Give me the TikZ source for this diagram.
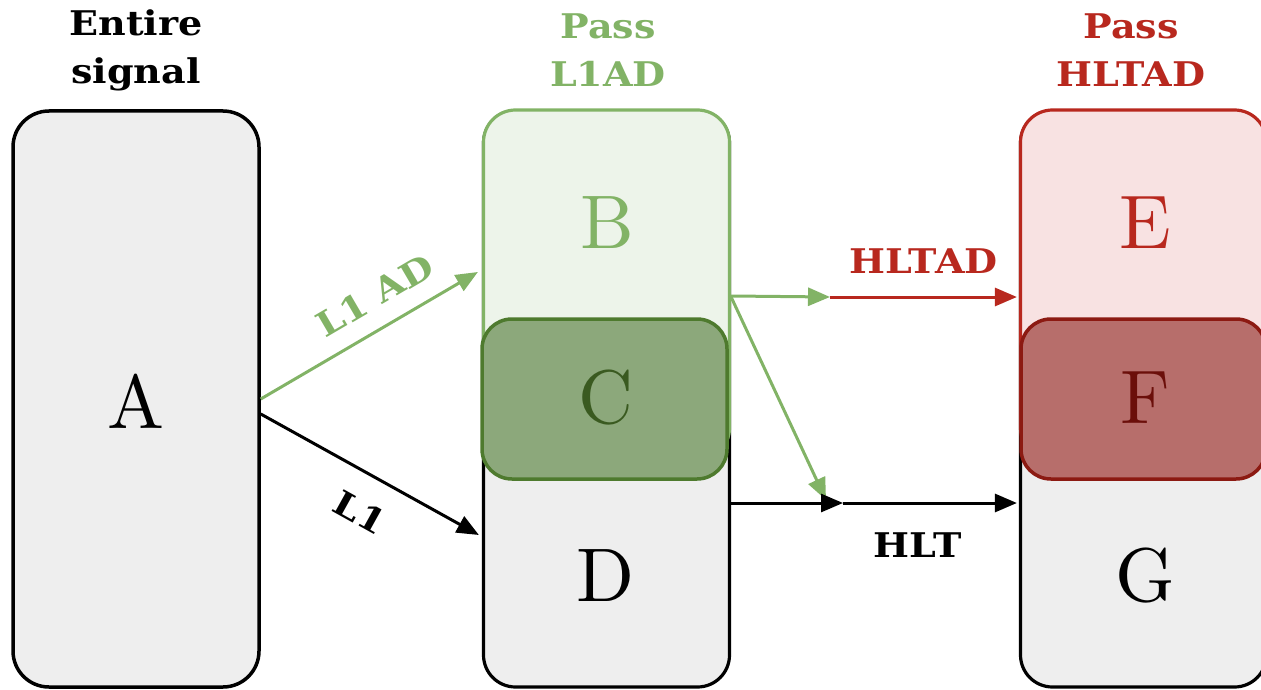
\documentclass[tikz,border=0pt]{standalone}
\usepackage{fontspec}
\newfontfamily\labfont{DejaVu Serif}[FakeStretch=1.12]
\newfontfamily\letterfont{lmroman10-regular.otf}
\usetikzlibrary{arrows.meta,calc}
\definecolor{grayfill}{HTML}{EEEEEE}
\definecolor{greenline}{HTML}{82B366}
\definecolor{greenfill}{HTML}{EDF4EA}
\definecolor{cfill}{HTML}{8CA87B}
\definecolor{cline}{HTML}{4E7A2E}
\definecolor{ctext}{HTML}{3A5A20}
\definecolor{redline}{HTML}{B8281E}
\definecolor{redfill}{HTML}{F8E2E2}
\definecolor{ffill}{HTML}{B76E6B}
\definecolor{fline}{HTML}{8C1A12}
\definecolor{ftext}{HTML}{6B0F0A}
\begin{document}
\begin{tikzpicture}[x=1pt,y=-1pt,
  box/.style={draw, line width=3.2pt, rounded corners=32pt, inner sep=0pt, minimum width=246pt},
  graybox/.style={box, draw=black, fill=grayfill, minimum height=576pt},
  letter/.style={font=\letterfont\fontsize{76}{76}\selectfont, inner sep=0pt},
  lab/.style={font=\labfont\bfseries\fontsize{34}{48}\selectfont, inner sep=0pt, align=center},
  arr/.style={line width=3pt, -{Triangle[length=22pt,width=18pt]}}]
\useasboundingbox (0,0) rectangle (1261,690);
% column titles
\node[lab] (tA) at (136,50) {Entire\\signal};
\node[lab, text=greenline] (tB) at (608,50) {Pass\\L1AD};
\node[lab, text=redline] (tE) at (1131,50) {Pass\\HLTAD};
% left box
\node[graybox, line width=3.5pt, rounded corners=36pt] (A) at (136,399) {};
\node[letter] (Al) at (136,401) {A};
% middle column
\node[graybox] (Dbox) at (606.5,399) {};
\node[box, draw=greenline, fill=greenfill, minimum height=350pt] (B) at (606.5,285) {};
\node[box, draw=cline, fill=cfill, line width=3.5pt, minimum width=245pt, minimum height=160pt, rounded corners=30pt] (C) at (604.5,399) {};
\node[letter, text=greenline] (Bl) at (607,223) {B};
\node[letter, text=ctext] (Cl) at (606,398) {C};
\node[letter] (Dl) at (606,576) {D};
% right column
\node[graybox] (Gbox) at (1143.5,399) {};
\node[box, draw=redline, fill=redfill, minimum height=350pt] (E) at (1143.5,285) {};
\node[box, draw=fline, fill=ffill, line width=3.5pt, minimum width=245pt, minimum height=160pt, rounded corners=30pt] (F) at (1143.5,399) {};
\node[letter, text=redline] (El) at (1145,223) {E};
\node[letter, text=ftext] (Fl) at (1145,398) {F};
\node[letter] (Gl) at (1145,576) {G};
% junction points
\coordinate (m1) at (830,297);
\coordinate (m2) at (843,503);
\coordinate (g2) at (826,500);
% arrows
\draw[arr, greenline] (A.east) -- ([xshift=-4pt,yshift=13pt]B.west)
  node[lab, text=greenline, sloped, above=18pt, pos=0.6] {L1 AD};
\draw[arr, black] ([yshift=-15pt]A.east) -- ([xshift=-3pt,yshift=-136pt]Dbox.west)
  node[lab, sloped, below=24pt, pos=0.54] {L1};
\draw[arr, greenline] ([yshift=-11pt]B.east) -- (m1);
\draw[arr, greenline] ([yshift=-12pt]B.east) -- (g2);
\draw[arr, redline] (m1) -- ([xshift=-2pt,yshift=-12pt]E.west)
  node[lab, text=redline, above=22pt, pos=0.5] {HLTAD};
\draw[arr, black] ([yshift=-104pt]Dbox.east) -- (m2);
\draw[arr, black] (m2) -- ([xshift=-2pt,yshift=-104pt]Gbox.west)
  node[lab, below=28pt, pos=0.43] {HLT};
\end{tikzpicture}
\end{document}
